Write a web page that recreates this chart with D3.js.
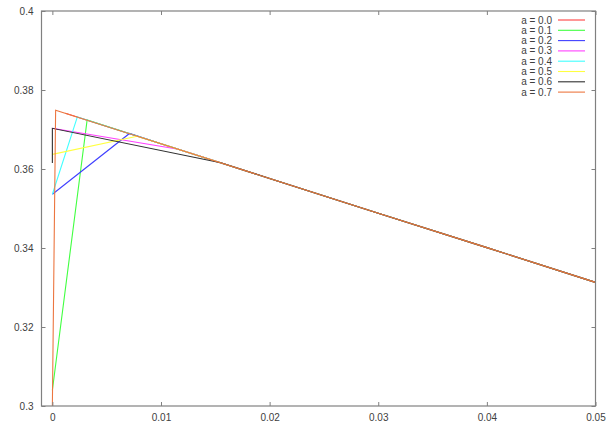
<!DOCTYPE html>
<html><head><meta charset="utf-8">
<script src="https://cdn.jsdelivr.net/npm/d3@7"></script>
<style>
html,body{margin:0;padding:0;background:#fff;}
text{font-family:"Liberation Sans",Arial,sans-serif;font-size:10px;fill:#404040;}
</style></head>
<body>
<svg id="chart" width="612" height="427"></svg>
<script>
// ---- data ----
const seriesNames = ["a = 0.0","a = 0.1","a = 0.2","a = 0.3","a = 0.4","a = 0.5","a = 0.6","a = 0.7"];
const seriesColors = ["#ff4040","#40ff40","#4040ff","#ff40ff","#40ffff","#ffff40","#303030","#ec7640"];
const a00 = [[0.0012,0.3741],[0.01,0.3664],[0.02,0.3576],[0.03,0.3488],[0.04,0.3401],[0.05,0.3313]];
const a01 = [[0,0.3040],[0.0032,0.3724],[0.01,0.3664],[0.02,0.3576],[0.03,0.3488],[0.04,0.3401],[0.05,0.3313]];
const a02 = [[0,0.3536],[0.0071,0.3690],[0.01,0.3664],[0.02,0.3576],[0.03,0.3488],[0.04,0.3401],[0.05,0.3313]];
const a03 = [[0,0.3703],[0.0116,0.3650],[0.02,0.3576],[0.03,0.3488],[0.04,0.3401],[0.05,0.3313]];
const a04 = [[0,0.3536],[0.0023,0.3732],[0.01,0.3664],[0.02,0.3576],[0.03,0.3488],[0.04,0.3401],[0.05,0.3313]];
const a05 = [[0,0.3637],[0.0078,0.3683],[0.01,0.3664],[0.02,0.3576],[0.03,0.3488],[0.04,0.3401],[0.05,0.3313]];
const a06 = [[0,0.3615],[0,0.3703],[0.0155,0.3616],[0.02,0.3576],[0.03,0.3488],[0.04,0.3401],[0.05,0.3313]];
const a07 = [[0,0.3000],[0.0003,0.3749],[0.01,0.3664],[0.02,0.3576],[0.03,0.3488],[0.04,0.3401],[0.05,0.3313]];
const seriesValues = [a00,a01,a02,a03,a04,a05,a06,a07];
const xTicks = [0,0.01,0.02,0.03,0.04,0.05];
const xTickLabels = ["0","0.01","0.02","0.03","0.04","0.05"];
const yTicks = [0.3,0.32,0.34,0.36,0.38,0.4];
const yTickLabels = ["0.3","0.32","0.34","0.36","0.38","0.4"];

// ---- layout ----
const L = 41.5, R = 595.5, T = 11, B = 406;
const svg = d3.select("#chart");
const x = d3.scaleLinear().domain([-0.001, 0.05]).range([L, R]);
const y = d3.scaleLinear().domain([0.3, 0.4]).range([B, T]);
const axisColor = "#808080";
const tickLen = 4;

// series
const line = d3.line().x(d => x(d[0])).y(d => y(d[1]));
const g = svg.append("g");
seriesValues.forEach((vals, i) => {
  g.append("path").attr("d", line(vals))
    .attr("fill", "none").attr("stroke", seriesColors[i])
    .attr("stroke-width", 1.1);
});

// axes with D3 axes (inward ticks, mirrored)
function styleAxis(sel){
  sel.select(".domain").remove();
  sel.selectAll(".tick line").attr("stroke", axisColor);
  sel.selectAll(".tick text").attr("fill", "#404040")
     .style("font-family", '"Liberation Sans",Arial,sans-serif').style("font-size","10px");
}
const xb = svg.append("g").attr("transform", `translate(0,${B})`)
  .call(d3.axisBottom(x).tickValues(xTicks).tickFormat((d,i)=>xTickLabels[i]).tickSizeInner(-tickLen).tickSizeOuter(0).tickPadding(8));
styleAxis(xb);
const xt = svg.append("g").attr("transform", `translate(0,${T})`)
  .call(d3.axisTop(x).tickValues(xTicks).tickFormat("").tickSizeInner(-tickLen).tickSizeOuter(0));
styleAxis(xt);
const yl = svg.append("g").attr("transform", `translate(${L},0)`)
  .call(d3.axisLeft(y).tickValues(yTicks).tickFormat((d,i)=>yTickLabels[i]).tickSizeInner(-tickLen).tickSizeOuter(0).tickPadding(8));
styleAxis(yl);
const yr = svg.append("g").attr("transform", `translate(${R},0)`)
  .call(d3.axisRight(y).tickValues(yTicks).tickFormat("").tickSizeInner(-tickLen).tickSizeOuter(0));
styleAxis(yr);

// frame
svg.append("rect").attr("x", L).attr("y", T).attr("width", R-L).attr("height", B-T)
  .attr("fill","none").attr("stroke", axisColor).attr("stroke-width", 1.2);

// legend
const legY0 = 20, legDy = 10.3;
seriesNames.forEach((name, i) => {
  const yy = legY0 + i*legDy;
  svg.append("text").attr("x", 552).attr("y", yy).attr("dy","0.35em")
    .attr("text-anchor","end").text(name);
  svg.append("line").attr("x1", 558).attr("x2", 585).attr("y1", yy).attr("y2", yy)
    .attr("stroke", seriesColors[i]).attr("stroke-width", 1.1);
});
</script>
</body></html>
